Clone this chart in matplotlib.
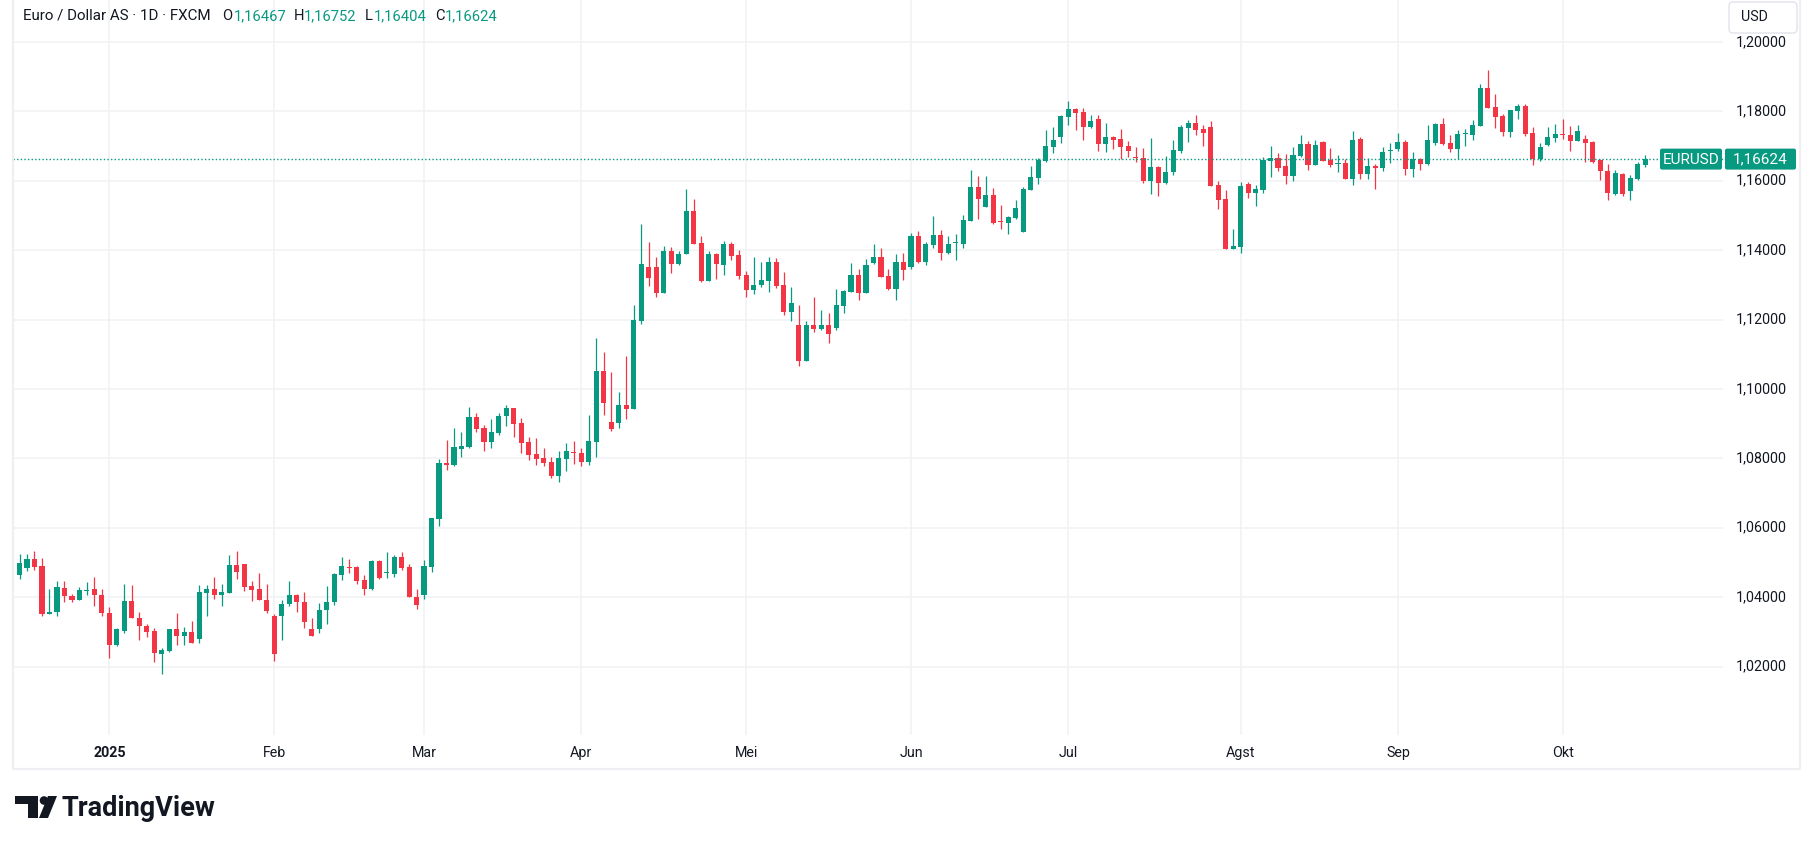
import matplotlib
matplotlib.use("Agg")
import matplotlib.pyplot as plt
import matplotlib.patches as mpatches
import matplotlib.transforms as mtransforms
import numpy as np
import pandas as pd

plt.rcParams['font.family'] = ['Roboto', 'DejaVu Sans']

# daily EUR/USD candles (FXCM), 13 Dec 2024 - 16 Oct 2025
opens = [
    1.04648, 1.04848, 1.05095, 1.04895, 1.03505, 1.03562, 1.04267, 1.04038, 1.03905, 1.04181,
    1.04238, 1.04067, 1.03552, 1.02619, 1.03019, 1.03895, 1.03410, 1.03181, 1.03010, 1.02362,
    1.02448, 1.03095, 1.02876, 1.02981, 1.02790, 1.04133, 1.04238, 1.04076, 1.04133, 1.04924,
    1.04952, 1.04324, 1.04238, 1.03924, 1.03467, 1.03448, 1.03790, 1.04067, 1.03867, 1.03095,
    1.03076, 1.03619, 1.03848, 1.04648, 1.04867, 1.04867, 1.04495, 1.04248, 1.05038, 1.04705,
    1.04676, 1.05152, 1.04867, 1.04010, 1.04048, 1.04876, 1.06238, 1.07867, 1.07808, 1.08269,
    1.08327, 1.09192, 1.08875, 1.08471, 1.08731, 1.09221, 1.09452, 1.09019, 1.08471, 1.08125,
    1.08010, 1.07894, 1.07490, 1.07981, 1.08183, 1.08154, 1.07894, 1.08471, 1.10519, 1.09048,
    1.09019, 1.09538, 1.09423, 1.11962, 1.13519, 1.13519, 1.12769, 1.13981, 1.13606, 1.13894,
    1.15140, 1.14213, 1.13121, 1.13894, 1.13585, 1.14184, 1.13865, 1.13285, 1.12860, 1.13005,
    1.13121, 1.13662, 1.12995, 1.12222, 1.11836, 1.10802, 1.11836, 1.11729, 1.11836, 1.11758,
    1.12396, 1.12802, 1.13285, 1.12773, 1.13643, 1.13807, 1.13256, 1.12885, 1.13663, 1.13519,
    1.14413, 1.13663, 1.14154, 1.14442, 1.13923, 1.14192, 1.14183, 1.14846, 1.15827, 1.15250,
    1.15596, 1.14817, 1.14788, 1.14933, 1.14529, 1.15740, 1.16087, 1.16577, 1.16981, 1.17269,
    1.17846, 1.18077, 1.17990, 1.17558, 1.17788, 1.17067, 1.17261, 1.17204, 1.17002, 1.16667,
    1.16657, 1.15995, 1.16398, 1.15938, 1.16254, 1.16859, 1.17520, 1.17664, 1.17492, 1.17549,
    1.15880, 1.15477, 1.14019, 1.14096, 1.15909, 1.15650, 1.15736, 1.16571, 1.16657, 1.16427,
    1.16139, 1.16715, 1.17060, 1.16456, 1.17118, 1.16610, 1.16476, 1.16524, 1.16038, 1.17210,
    1.16181, 1.16438, 1.16381, 1.16857, 1.16924, 1.17124, 1.16352, 1.16638, 1.16495, 1.17095,
    1.17638, 1.17095, 1.16924, 1.17333, 1.17324, 1.17581, 1.18667, 1.18124, 1.17867, 1.17410,
    1.18010, 1.18152, 1.17381, 1.16638, 1.17038, 1.17238, 1.17346, 1.17327, 1.17135, 1.17212,
    1.17106, 1.16587, 1.16288, 1.15606, 1.16202, 1.15692, 1.16058, 1.16467,
]
highs = [
    1.05238, 1.05238, 1.05324, 1.05124, 1.04238, 1.04467, 1.04467, 1.04095, 1.04295, 1.04438,
    1.04581, 1.04238, 1.03724, 1.03124, 1.04381, 1.04352, 1.03581, 1.03238, 1.03124, 1.02533,
    1.03095, 1.03552, 1.03152, 1.03324, 1.04352, 1.04352, 1.04581, 1.04381, 1.05210, 1.05324,
    1.04952, 1.04467, 1.04695, 1.04381, 1.03524, 1.03924, 1.04467, 1.04095, 1.04152, 1.03410,
    1.03838, 1.04324, 1.04695, 1.05152, 1.05095, 1.04895, 1.04638, 1.05067, 1.05067, 1.05295,
    1.05210, 1.05295, 1.04952, 1.04238, 1.05067, 1.06295, 1.07981, 1.08540, 1.08875, 1.08760,
    1.09481, 1.09308, 1.08962, 1.09135, 1.09308, 1.09538, 1.09452, 1.09163, 1.08615, 1.08587,
    1.08298, 1.08038, 1.08212, 1.08442, 1.08500, 1.08298, 1.09250, 1.11471, 1.11067, 1.10490,
    1.09913, 1.10952, 1.12423, 1.14760, 1.14240, 1.13808, 1.14125, 1.14096, 1.13981, 1.15749,
    1.15488, 1.14415, 1.13981, 1.13923, 1.14271, 1.14242, 1.14010, 1.13401, 1.13807, 1.13662,
    1.13807, 1.13778, 1.13372, 1.12947, 1.12415, 1.11952, 1.12647, 1.12271, 1.12184, 1.12879,
    1.12860, 1.13633, 1.13459, 1.13749, 1.14184, 1.14068, 1.13459, 1.13875, 1.13904, 1.14500,
    1.14558, 1.14240, 1.14971, 1.14587, 1.14413, 1.14471, 1.15019, 1.16317, 1.16144, 1.16144,
    1.15798, 1.15308, 1.14990, 1.15452, 1.15827, 1.16433, 1.16663, 1.17471, 1.17558, 1.17904,
    1.18308, 1.18106, 1.18106, 1.17904, 1.17904, 1.17673, 1.17290, 1.17492, 1.17146, 1.16974,
    1.16945, 1.17233, 1.16427, 1.16715, 1.17175, 1.17607, 1.17751, 1.17895, 1.17607, 1.17722,
    1.15995, 1.15736, 1.14614, 1.15966, 1.15966, 1.15880, 1.16686, 1.17002, 1.16801, 1.16772,
    1.16974, 1.17319, 1.17146, 1.17175, 1.17146, 1.16952, 1.16752, 1.16638, 1.17438, 1.17267,
    1.16667, 1.16495, 1.16981, 1.17095, 1.17381, 1.17181, 1.16838, 1.16667, 1.17610, 1.17667,
    1.17810, 1.17324, 1.17467, 1.17495, 1.17752, 1.18781, 1.19181, 1.18495, 1.17924, 1.18038,
    1.18210, 1.18210, 1.17552, 1.17095, 1.17552, 1.17638, 1.17788, 1.17587, 1.17615, 1.17327,
    1.17154, 1.16615, 1.16490, 1.16317, 1.16231, 1.16173, 1.16548, 1.16752,
]
lows = [
    1.04533, 1.04762, 1.04790, 1.03448, 1.03505, 1.03448, 1.03848, 1.03848, 1.03905, 1.04076,
    1.03733, 1.03448, 1.02248, 1.02590, 1.02962, 1.03390, 1.02762, 1.02848, 1.02133, 1.01790,
    1.02419, 1.02619, 1.02619, 1.02676, 1.02676, 1.03448, 1.03933, 1.03733, 1.04133, 1.04533,
    1.04190, 1.03876, 1.03905, 1.03533, 1.02162, 1.02762, 1.03733, 1.03562, 1.03105, 1.02876,
    1.02962, 1.03219, 1.03762, 1.04505, 1.04705, 1.04390, 1.04048, 1.04219, 1.04533, 1.04562,
    1.04590, 1.04790, 1.03990, 1.03648, 1.03933, 1.04733, 1.06048, 1.07676, 1.07779, 1.08038,
    1.08298, 1.08760, 1.08212, 1.08298, 1.08673, 1.08933, 1.08615, 1.08154, 1.07952, 1.07808,
    1.07779, 1.07433, 1.07317, 1.07635, 1.07837, 1.07779, 1.07808, 1.08038, 1.09250, 1.08788,
    1.08875, 1.09135, 1.09423, 1.11875, 1.12971, 1.12654, 1.12769, 1.13346, 1.13577, 1.13894,
    1.14184, 1.13092, 1.13121, 1.13179, 1.13295, 1.13729, 1.13179, 1.12657, 1.12744, 1.12947,
    1.12802, 1.12918, 1.12135, 1.11961, 1.10657, 1.10802, 1.11643, 1.11700, 1.11324, 1.11700,
    1.12193, 1.12802, 1.12570, 1.12773, 1.13614, 1.13237, 1.12860, 1.12567, 1.13144, 1.13462,
    1.13635, 1.13577, 1.14067, 1.13721, 1.13894, 1.13721, 1.14067, 1.14846, 1.14904, 1.15250,
    1.14760, 1.14615, 1.14471, 1.14904, 1.14529, 1.15740, 1.15913, 1.16548, 1.16808, 1.17096,
    1.17615, 1.17471, 1.17183, 1.17529, 1.16865, 1.16837, 1.16916, 1.16628, 1.16686, 1.16542,
    1.15938, 1.15621, 1.15564, 1.15909, 1.16168, 1.16801, 1.17118, 1.17319, 1.17002, 1.15851,
    1.15189, 1.14019, 1.14019, 1.13923, 1.15506, 1.15276, 1.15650, 1.16110, 1.16283, 1.15909,
    1.15995, 1.16686, 1.16312, 1.16456, 1.16571, 1.16410, 1.16238, 1.16038, 1.15867, 1.16038,
    1.16038, 1.15752, 1.16295, 1.16524, 1.16867, 1.16152, 1.16095, 1.16324, 1.16467, 1.17038,
    1.17038, 1.16838, 1.16638, 1.17010, 1.17181, 1.17581, 1.18095, 1.17524, 1.17295, 1.17267,
    1.17781, 1.17295, 1.16467, 1.16581, 1.17010, 1.17124, 1.17192, 1.16846, 1.17135, 1.16529,
    1.16500, 1.16010, 1.15433, 1.15577, 1.15548, 1.15433, 1.16029, 1.16404,
]
closes = [
    1.04981, 1.05095, 1.04876, 1.03505, 1.03581, 1.04295, 1.04019, 1.03905, 1.04210, 1.04210,
    1.04048, 1.03533, 1.02619, 1.03095, 1.03895, 1.03390, 1.03162, 1.02990, 1.02390, 1.02467,
    1.03095, 1.02876, 1.02981, 1.02676, 1.04152, 1.04238, 1.04076, 1.04152, 1.04924, 1.04733,
    1.04305, 1.04219, 1.03905, 1.03590, 1.02362, 1.03810, 1.04067, 1.03848, 1.03276, 1.02876,
    1.03638, 1.03867, 1.04667, 1.04895, 1.04848, 1.04476, 1.04248, 1.05038, 1.04562, 1.04724,
    1.05152, 1.04848, 1.03990, 1.03762, 1.04895, 1.06267, 1.07867, 1.07819, 1.08327, 1.08356,
    1.09192, 1.08846, 1.08471, 1.08760, 1.09221, 1.09452, 1.08990, 1.08442, 1.08096, 1.07981,
    1.07865, 1.07490, 1.08010, 1.08212, 1.08154, 1.07894, 1.08500, 1.10519, 1.09596, 1.08846,
    1.09538, 1.09423, 1.11990, 1.13606, 1.13202, 1.12769, 1.13981, 1.13606, 1.13894, 1.15140,
    1.14184, 1.13121, 1.13894, 1.13614, 1.14184, 1.13845, 1.13266, 1.12860, 1.12995, 1.13140,
    1.13662, 1.12976, 1.12222, 1.12473, 1.10802, 1.11836, 1.11729, 1.11836, 1.11585, 1.12415,
    1.12821, 1.13285, 1.12773, 1.13575, 1.13807, 1.13237, 1.12889, 1.13663, 1.13433, 1.14413,
    1.13663, 1.14183, 1.14442, 1.13923, 1.14183, 1.14212, 1.14875, 1.15827, 1.15481, 1.15596,
    1.14788, 1.14798, 1.14962, 1.15221, 1.15769, 1.16115, 1.16606, 1.17010, 1.17183, 1.17875,
    1.18077, 1.17962, 1.17558, 1.17731, 1.17067, 1.17269, 1.17175, 1.16974, 1.16859, 1.16647,
    1.15995, 1.16398, 1.15938, 1.16254, 1.16887, 1.17549, 1.17664, 1.17463, 1.17376, 1.15851,
    1.15448, 1.14019, 1.14125, 1.15851, 1.15650, 1.15765, 1.16600, 1.16657, 1.16369, 1.16139,
    1.16743, 1.17060, 1.16456, 1.17031, 1.16571, 1.16467, 1.16524, 1.16038, 1.17181, 1.16181,
    1.16438, 1.16381, 1.16838, 1.16876, 1.17124, 1.16352, 1.16638, 1.16495, 1.17181, 1.17638,
    1.17067, 1.16924, 1.17352, 1.17352, 1.17610, 1.18667, 1.18095, 1.17838, 1.17410, 1.18038,
    1.18152, 1.17352, 1.16638, 1.16981, 1.17267, 1.17352, 1.17317, 1.17135, 1.17442, 1.17077,
    1.16548, 1.16269, 1.15635, 1.16231, 1.15606, 1.16087, 1.16490, 1.16624,
]

dates = pd.bdate_range('2024-12-13', '2025-10-16', freq='C',
                       holidays=['2024-12-25', '2025-01-01'])
month_labels = ['2025', 'Feb', 'Mar', 'Apr', 'Mei', 'Jun', 'Jul', 'Agst', 'Sep', 'Okt']
price_ticks = [1.02, 1.04, 1.06, 1.08, 1.10, 1.12, 1.14, 1.16, 1.18, 1.20]
last_price = 1.16624

UP = '#089981'
DOWN = '#F23645'
TXT = '#131722'
GRID = '#f0f2f5'

W, H = 1802, 844
fig = plt.figure(figsize=(W / 100, H / 100), dpi=100)
fig.patch.set_facecolor('white')

ax = fig.add_axes([13 / W, 1 - 735 / H, (1723 - 13) / W, 735 / H])
o = np.array(opens)
h = np.array(highs)
l = np.array(lows)
c = np.array(closes)
x = np.arange(len(o))
cols = np.where(c >= o, UP, DOWN)

ax.vlines(x, l, h, colors=cols, linewidth=0.9, zorder=3)
body_lo = np.minimum(o, c)
body_h = np.maximum(np.abs(c - o), 0.0003)
ax.bar(x, body_h, bottom=body_lo, width=0.68, color=cols, linewidth=0, zorder=4)

ax.set_xlim(-0.87, 227.4)
ax.set_ylim(1.00027, 1.21209)

# month starts (first bar of each month in 2025)
month_pos = [i for i in range(1, len(dates)) if dates[i].month != dates[i - 1].month]
ax.set_xticks(month_pos)
ax.set_yticks(price_ticks)
ax.grid(True, color=GRID, linewidth=1.2, zorder=0)
ax.tick_params(length=0, labelbottom=False, labelleft=False)
for s in ax.spines.values():
    s.set_visible(False)

ax.axhline(last_price, color=UP, linewidth=1.0, linestyle=(0, (1, 1.6)), zorder=5)

# price scale labels
ytr = mtransforms.blended_transform_factory(fig.transFigure, ax.transData)
for p in price_ticks:
    fig.text(1761 / W, p, f"{p:.5f}".replace('.', ','), transform=ytr,
             ha='center', va='center', fontsize=10.3, color=TXT)

# time scale labels
xtr = mtransforms.blended_transform_factory(ax.transData, fig.transFigure)
for pos, lab in zip(month_pos, month_labels):
    fig.text(pos, 1 - 753 / H, lab, transform=xtr, ha='center', va='center',
             fontsize=10.3, color=TXT, fontweight='bold' if lab == '2025' else 'normal')

# overlay in pixel coordinates for boxes, frame and logo
ov = fig.add_axes([0, 0, 1, 1], facecolor='none')
ov.set_xlim(0, W)
ov.set_ylim(H, 0)
ov.axis('off')

# chart frame
ov.plot([13, 13, 1800, 1800], [0, 769, 769, 0], color='#eeeff2', linewidth=1.6)

# last price labels
y_last = H - ax.transData.transform((0, last_price))[1]
ov.add_patch(mpatches.FancyBboxPatch((1660, y_last - 10.5), 62, 21,
                                     boxstyle='round,pad=0,rounding_size=2',
                                     facecolor=UP, edgecolor='none'))
ov.add_patch(mpatches.FancyBboxPatch((1725, y_last - 10.5), 71, 21,
                                     boxstyle='round,pad=0,rounding_size=2',
                                     facecolor=UP, edgecolor='none'))
ov.text(1691, y_last + 0.5, 'EURUSD', ha='center', va='center', fontsize=11, color='white')
ov.text(1760.5, y_last + 0.5, '1,16624', ha='center', va='center', fontsize=11, color='white')

# currency button
ov.add_patch(mpatches.FancyBboxPatch((1729, 2), 68, 31,
                                     boxstyle='round,pad=0,rounding_size=4',
                                     facecolor='white', edgecolor='#e0e3eb', linewidth=1))
ov.text(1741, 17, 'USD', ha='left', va='center', fontsize=10.3, color=TXT)

# legend line
ov.text(23, 16, 'Euro / Dollar AS · 1D · FXCM', ha='left', va='center', fontsize=10.9, color=TXT)
for lx, letter, vx, val in [(222, 'O', 234, '1,16467'), (294, 'H', 304, '1,16752'),
                            (365, 'L', 374, '1,16404'), (435, 'C', 445, '1,16624')]:
    ov.text(lx, 16, letter, ha='left', va='center', fontsize=10.6, color=TXT)
    ov.text(vx, 16, val, ha='left', va='center', fontsize=10.6, color=UP)

# TradingView logo
ov.add_patch(mpatches.Polygon([(15, 796), (38, 796), (38, 818), (28, 818), (28, 804), (15, 804)],
                              closed=True, facecolor='#131722', edgecolor='none'))
ov.add_patch(mpatches.Circle((44, 800.5), 4.3, facecolor='#131722', edgecolor='none'))
ov.add_patch(mpatches.Polygon([(48, 796), (57, 796), (48, 818), (39, 818)],
                              closed=True, facecolor='#131722', edgecolor='none'))
ov.text(61, 808, 'TradingView', ha='left', va='center', fontsize=19.5, fontweight='bold',
        color='#131722')

fig.savefig('out.png', dpi=100, facecolor='white')
